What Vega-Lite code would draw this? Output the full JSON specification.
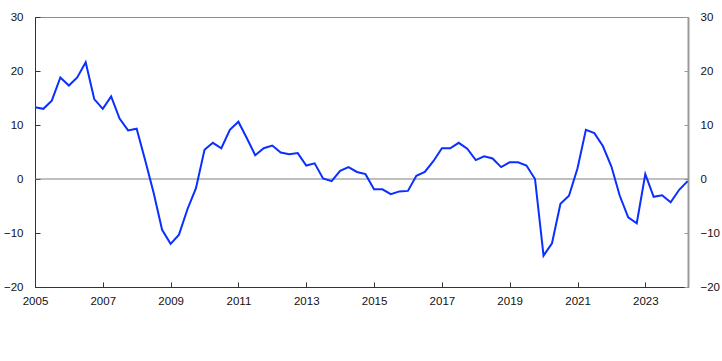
{
  "$schema": "https://vega.github.io/schema/vega-lite/v6.json",
  "width": 653,
  "height": 270,
  "autosize": "none",
  "padding": {"left": 35, "top": 17, "right": 34, "bottom": 74},
  "background": "white",
  "config": {
    "view": {"stroke": "#8c8c8c", "strokeWidth": 1},
    "axis": {
      "grid": false,
      "title": null,
      "labelFont": "Liberation Sans",
      "labelFontSize": 11.5,
      "labelColor": "#111111",
      "domainColor": "#333333",
      "tickColor": "#333333",
      "tickSize": -5,
      "labelPadding": 17
    }
  },
  "data": {
    "values": [
      {"d": "2005-01-01", "v": 13.3}, {"d": "2005-04-01", "v": 13.0}, {"d": "2005-07-01", "v": 14.5}, {"d": "2005-10-01", "v": 18.8},
      {"d": "2006-01-01", "v": 17.3}, {"d": "2006-04-01", "v": 18.8}, {"d": "2006-07-01", "v": 21.6}, {"d": "2006-10-01", "v": 14.8},
      {"d": "2007-01-01", "v": 13.0}, {"d": "2007-04-01", "v": 15.3}, {"d": "2007-07-01", "v": 11.2}, {"d": "2007-10-01", "v": 9.0},
      {"d": "2008-01-01", "v": 9.3}, {"d": "2008-04-01", "v": 3.5}, {"d": "2008-07-01", "v": -2.5}, {"d": "2008-10-01", "v": -9.4},
      {"d": "2009-01-01", "v": -12.0}, {"d": "2009-04-01", "v": -10.3}, {"d": "2009-07-01", "v": -5.6}, {"d": "2009-10-01", "v": -1.7},
      {"d": "2010-01-01", "v": 5.4}, {"d": "2010-04-01", "v": 6.7}, {"d": "2010-07-01", "v": 5.7}, {"d": "2010-10-01", "v": 9.1},
      {"d": "2011-01-01", "v": 10.6}, {"d": "2011-04-01", "v": 7.6}, {"d": "2011-07-01", "v": 4.4}, {"d": "2011-10-01", "v": 5.7},
      {"d": "2012-01-01", "v": 6.2}, {"d": "2012-04-01", "v": 4.9}, {"d": "2012-07-01", "v": 4.6}, {"d": "2012-10-01", "v": 4.8},
      {"d": "2013-01-01", "v": 2.5}, {"d": "2013-04-01", "v": 2.9}, {"d": "2013-07-01", "v": 0.1}, {"d": "2013-10-01", "v": -0.4},
      {"d": "2014-01-01", "v": 1.5}, {"d": "2014-04-01", "v": 2.2}, {"d": "2014-07-01", "v": 1.3}, {"d": "2014-10-01", "v": 0.9},
      {"d": "2015-01-01", "v": -1.9}, {"d": "2015-04-01", "v": -1.9}, {"d": "2015-07-01", "v": -2.8}, {"d": "2015-10-01", "v": -2.3},
      {"d": "2016-01-01", "v": -2.2}, {"d": "2016-04-01", "v": 0.6}, {"d": "2016-07-01", "v": 1.3}, {"d": "2016-10-01", "v": 3.3},
      {"d": "2017-01-01", "v": 5.7}, {"d": "2017-04-01", "v": 5.7}, {"d": "2017-07-01", "v": 6.7}, {"d": "2017-10-01", "v": 5.6},
      {"d": "2018-01-01", "v": 3.5}, {"d": "2018-04-01", "v": 4.2}, {"d": "2018-07-01", "v": 3.8}, {"d": "2018-10-01", "v": 2.2},
      {"d": "2019-01-01", "v": 3.1}, {"d": "2019-04-01", "v": 3.1}, {"d": "2019-07-01", "v": 2.5}, {"d": "2019-10-01", "v": 0.0},
      {"d": "2020-01-01", "v": -14.2}, {"d": "2020-04-01", "v": -11.9}, {"d": "2020-07-01", "v": -4.6}, {"d": "2020-10-01", "v": -3.1},
      {"d": "2021-01-01", "v": 2.0}, {"d": "2021-04-01", "v": 9.1}, {"d": "2021-07-01", "v": 8.5}, {"d": "2021-10-01", "v": 6.1},
      {"d": "2022-01-01", "v": 2.3}, {"d": "2022-04-01", "v": -3.1}, {"d": "2022-07-01", "v": -7.1}, {"d": "2022-10-01", "v": -8.2},
      {"d": "2023-01-01", "v": 0.9}, {"d": "2023-04-01", "v": -3.3}, {"d": "2023-07-01", "v": -3.0}, {"d": "2023-10-01", "v": -4.3},
      {"d": "2024-01-01", "v": -2.0}, {"d": "2024-04-01", "v": -0.4}
    ]
  },
  "layer": [
    {
      "data": {"values": [{"zero": 0}]},
      "mark": {"type": "rule", "color": "#808080", "strokeWidth": 1},
      "encoding": {
        "y": {"field": "zero", "type": "quantitative", "scale": {"domain": [-20, 30], "nice": false}, "axis": null}
      }
    },
    {
      "mark": {"type": "line", "color": "#0a2fff", "strokeWidth": 2, "strokeJoin": "miter"},
      "encoding": {
        "x": {
          "field": "d", "type": "temporal",
          "scale": {"type": "utc", "domain": [{"year": 2005, "month": 1, "date": 1, "utc": true}, {"year": 2024, "month": 4, "date": 5, "utc": true}], "nice": false},
          "axis": {
            "values": [
              {"year": 2005, "utc": true}, {"year": 2007, "utc": true}, {"year": 2009, "utc": true}, {"year": 2011, "utc": true},
              {"year": 2013, "utc": true}, {"year": 2015, "utc": true}, {"year": 2017, "utc": true}, {"year": 2019, "utc": true},
              {"year": 2021, "utc": true}, {"year": 2023, "utc": true}
            ],
            "format": "%Y", "formatType": "utc", "labelFlush": false, "labelOverlap": false, "labelPadding": 13
          }
        },
        "y": {
          "field": "v", "type": "quantitative",
          "scale": {"domain": [-20, 30], "nice": false},
          "axis": {"orient": "left", "values": [-20, -10, 0, 10, 20, 30]}
        }
      }
    },
    {
      "mark": {"type": "line", "opacity": 0},
      "encoding": {
        "x": {"field": "d", "type": "temporal"},
        "y": {
          "field": "v", "type": "quantitative",
          "scale": {"domain": [-20, 30], "nice": false},
          "axis": {"orient": "right", "values": [-20, -10, 0, 10, 20, 30], "domainColor": "#999999", "domainWidth": 2, "tickColor": "#999999", "tickSize": -4, "labelPadding": 16}
        }
      }
    }
  ],
  "resolve": {"axis": {"y": "independent"}}
}
